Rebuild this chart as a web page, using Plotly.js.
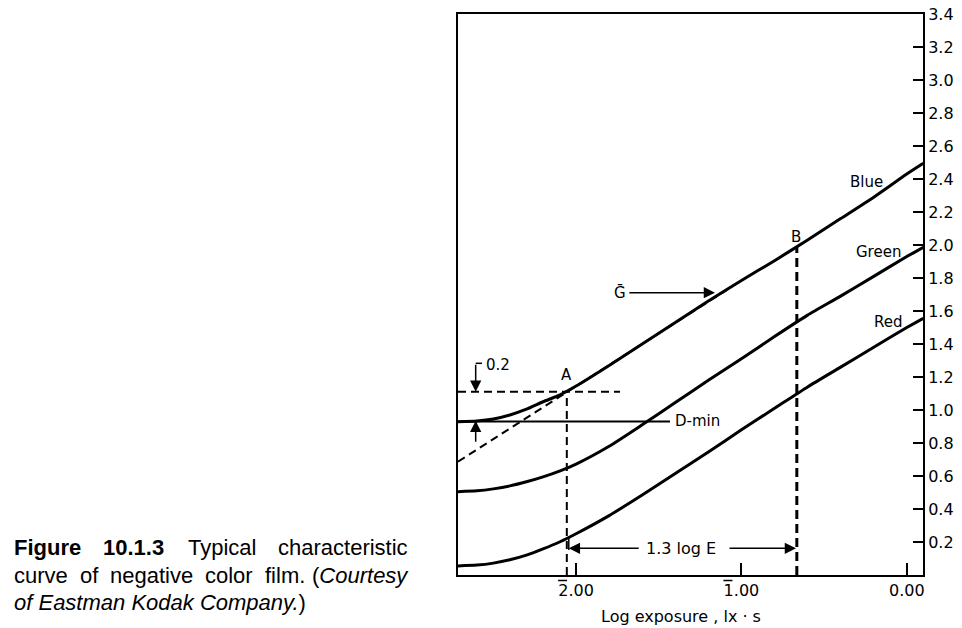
<!DOCTYPE html>
<html>
<head>
<meta charset="utf-8">
<script src="https://cdn.plot.ly/plotly-3.0.1.min.js"></script>
<style>html,body{margin:0;padding:0;background:#fff;}#chart{width:962px;height:628px;}</style>
</head>
<body>
<div id="chart"></div>
<script>
// ---- data ----
const logE = [-2.714,-2.6,-2.5,-2.4,-2.3,-2.2,-2.1,-2.0,-1.8,-1.6,-1.4,-1.2,-1.0,-0.8,-0.6,-0.4,-0.2,0.0,0.1];
const blueD  = [0.929,0.933,0.945,0.97,1.005,1.05,1.09,1.145,1.27,1.40,1.53,1.66,1.785,1.905,2.03,2.16,2.29,2.43,2.495];
const greenD = [0.505,0.51,0.522,0.54,0.565,0.595,0.63,0.672,0.78,0.91,1.045,1.18,1.31,1.445,1.575,1.69,1.81,1.93,1.986];
const redD   = [0.055,0.06,0.072,0.092,0.12,0.158,0.2,0.25,0.36,0.485,0.615,0.745,0.88,1.01,1.14,1.26,1.38,1.50,1.556];

const tangentX = [-2.714, -1.089];
const tangentY = [0.687, 1.727];
const dminX = [-2.714, -1.432];
const dminY = [0.93, 0.93];
const levelX = [-2.714, -1.734];   // D-min + 0.2
const levelY = [1.11, 1.11];
const pointA = [-2.056, 1.11];
const pointB = [-0.665, 1.99];

const xTickVals = [-2, -1, 0];
const xTickText = ['2.00', '1.00', '0.00'];
const xTickBarred = [true, true, false];   // bar (negative characteristic) over first digit
const yTickVals = [0.2,0.4,0.6,0.8,1.0,1.2,1.4,1.6,1.8,2.0,2.2,2.4,2.6,2.8,3.0,3.2,3.4];
const yTickText = ['0.2','0.4','0.6','0.8','1.0','1.2','1.4','1.6','1.8','2.0','2.2','2.4','2.6','2.8','3.0','3.2','3.4'];

const curveLabels = ['Blue', 'Green', 'Red'];
const captionLine1 = ['<b>Figure</b>', '<b>10.1.3</b>', 'Typical', 'characteristic'];
const captionLine2 = ['curve', 'of', 'negative', 'color', 'film.', '(<i>Courtesy</i>'];
const captionLine3 = ['<i>of Eastman Kodak Company.</i>)'];

// ---- layout helpers ----
const PL = 458, PR = 923, PT = 14, PB = 575;
const XMIN = -2.714, XMAX = 0.098;
const px = v => (v - PL) / (PR - PL);
const py = v => (PB - v) / (PB - PT);
const FONT = 'DejaVu Sans, sans-serif';
const CAP = 'Liberation Sans, Arial, sans-serif';
const K = '#000';

function line(x, y, w, dash, shape) {
  return {x: x, y: y, type: 'scatter', mode: 'lines', hoverinfo: 'skip', showlegend: false,
          line: {color: K, width: w, dash: dash || 'solid', shape: shape || 'linear', smoothing: 0.6}};
}

const traces = [
  line(logE, blueD, 3, 'solid', 'spline'),
  line(logE, greenD, 3, 'solid', 'spline'),
  line(logE, redD, 3, 'solid', 'spline'),
  line(tangentX, tangentY, 2, '8px,5px'),
  line(dminX, dminY, 2),
  line(levelX, levelY, 2, '8px,5px'),
  line([pointA[0], pointA[0]], [0, pointA[1]], 2, '8px,5px'),
  line([pointB[0], pointB[0]], [0, pointB[1]], 3, '9px,5px'),
  line([-2.607, -2.569], [1.283, 1.283], 1.5),
  line([-2.044, -2.044], [0.152, 0.225], 1.5)
];

function arrow(x, y, ax, ay) {
  return {x: x, y: y, ax: ax, ay: ay, xref: 'x', yref: 'y', axref: 'x', ayref: 'y',
          text: '', showarrow: true, arrowhead: 2, arrowsize: 1.5, arrowwidth: 1.5, arrowcolor: K, standoff: 0};
}
function txt(x, y, t, size, anchor) {
  return {x: x, y: y, xref: 'x', yref: 'y', text: t, showarrow: false, xanchor: anchor || 'center', yanchor: 'middle',
          font: {family: FONT, size: size, color: K}};
}
function cap(pxX, pxY, t, anchor) {
  return {x: px(pxX), y: py(pxY), xref: 'paper', yref: 'paper', text: t, showarrow: false,
          xanchor: anchor || 'center', yanchor: 'middle', font: {family: CAP, size: 22, color: K}};
}

const annotations = [
  txt(pointA[0], 1.215, 'A', 15),
  txt(pointB[0] - 0.005, 2.05, 'B', 15),
  txt(-1.734, 1.709, '\u1E20', 15),
  arrow(-1.160, 1.711, -1.687, 1.711),
  txt(-2.472, 1.273, '0.2', 15),
  arrow(-2.607, 1.11, -2.607, 1.283),
  arrow(-2.607, 0.935, -2.607, 0.798),
  txt(-1.414, 0.935, 'D-min', 15, 'left'),
  txt(-1.365, 0.162, '1.3 log E', 16),
  arrow(-2.044, 0.162, -1.612, 0.162),
  arrow(-0.670, 0.162, -1.081, 0.162),
  txt(-0.243, 2.384, curveLabels[0], 15),
  txt(-0.174, 1.960, curveLabels[1], 15),
  txt(-0.110, 1.535, curveLabels[2], 15),
  {x: px(681), y: py(616.5), xref: 'paper', yref: 'paper', text: 'Log exposure , lx \u00B7 s', showarrow: false,
   xanchor: 'center', yanchor: 'middle', font: {family: FONT, size: 16, color: K}}
];
// justified caption: word positions (page pixels)
const c1 = [[12, 'left'], [133, 'center'], [221.5, 'center'], [410, 'right']];
captionLine1.forEach((w, i) => annotations.push(cap(c1[i][0], 547, w, c1[i][1])));
const c2 = [[12, 'left'], [78, 'left'], [108, 'left'], [203, 'left'], [263, 'left'], [411, 'right']];
captionLine2.forEach((w, i) => annotations.push(cap(c2[i][0], 575, w, c2[i][1])));
annotations.push(cap(12, 602, captionLine3[0], 'left'));

// overbars above the first digit of barred tick labels (drawn as short strokes)
const shapes = [];
xTickVals.forEach((v, i) => {
  if (!xTickBarred[i]) return;
  const cx = PL + (v - XMIN) / (XMAX - XMIN) * (PR - PL);
  const x0 = cx - 18, x1 = cx - 9;
  shapes.push({type: 'line', xref: 'paper', yref: 'paper', x0: px(x0), x1: px(x1), y0: py(580.5), y1: py(580.5),
               line: {color: K, width: 1.5}});
});

const layout = {
  width: 962, height: 628,
  margin: {l: PL, r: 962 - PR, t: PT, b: 628 - PB, pad: 0},
  paper_bgcolor: '#fff', plot_bgcolor: '#fff',
  showlegend: false,
  font: {family: FONT, color: K},
  xaxis: {range: [XMIN, XMAX], tickvals: xTickVals, ticktext: xTickText, ticks: 'inside', ticklen: 12,
          tickwidth: 2, tickcolor: K, showline: true, linecolor: K, linewidth: 2, mirror: true,
          showgrid: false, zeroline: false, tickfont: {family: FONT, size: 16, color: K}, fixedrange: true},
  yaxis: {range: [0, 3.4], side: 'right', tickvals: yTickVals, ticktext: yTickText, ticks: 'inside', ticklen: 10,
          tickwidth: 2, tickcolor: K, showline: true, linecolor: K, linewidth: 2, mirror: true,
          showgrid: false, zeroline: false, tickfont: {family: FONT, size: 16, color: K}, fixedrange: true},
  shapes: shapes,
  annotations: annotations
};

Plotly.newPlot('chart', traces, layout, {displayModeBar: false, staticPlot: true});
</script>
</body>
</html>
